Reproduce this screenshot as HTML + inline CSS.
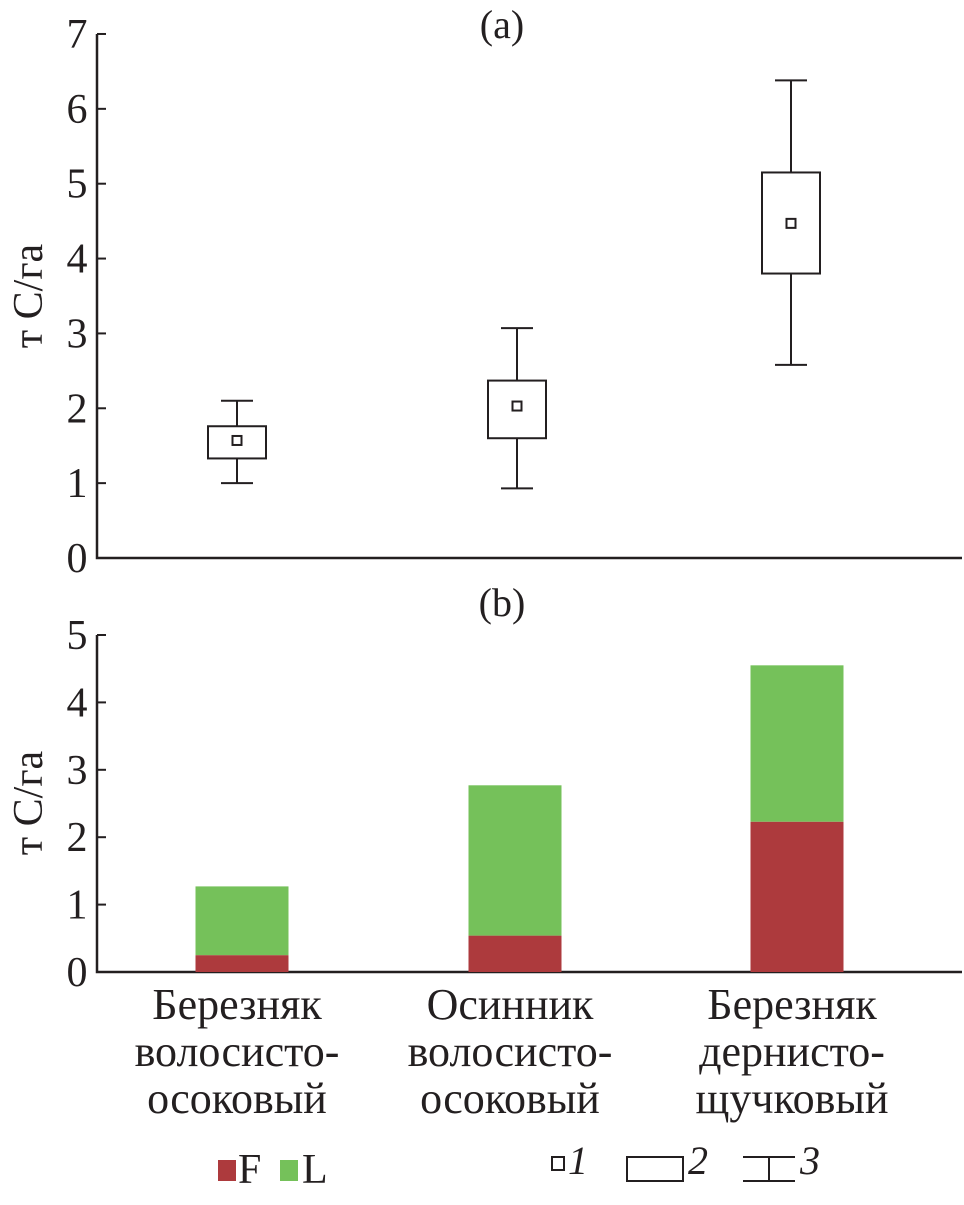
<!DOCTYPE html>
<html><head><meta charset="utf-8"><style>
html,body{margin:0;padding:0;background:#fff;}
svg text{font-family:"Liberation Serif","DejaVu Serif",serif;fill:#231f20;}
</style></head><body>
<svg id="c" width="964" height="1200" viewBox="0 0 964 1200" xmlns="http://www.w3.org/2000/svg">
<g id="top"></g>
<g id="bot"></g>
<g id="leg">
  <rect x="218" y="1160" width="18" height="21" fill="#ad3a3d"/>
  <text x="238" y="1183" font-size="42">F</text>
  <rect x="280" y="1160" width="18" height="21" fill="#75c15a"/>
  <text x="302" y="1183" font-size="42">L</text>
  <rect x="552" y="1157" width="12" height="13" fill="none" stroke="#231f20" stroke-width="2"/>
  <text x="568" y="1174" font-size="40" font-style="italic">1</text>
  <rect x="627" y="1157" width="56" height="24" fill="none" stroke="#231f20" stroke-width="2"/>
  <text x="688" y="1174" font-size="40" font-style="italic">2</text>
  <path d="M743 1157H795M743 1181H795M769 1157V1181" stroke="#231f20" stroke-width="2" fill="none"/>
  <text x="800" y="1174" font-size="40" font-style="italic">3</text>
</g>
</svg>
<script>
const NS="http://www.w3.org/2000/svg";
const categories=[["Березняк","волосисто-","осоковый"],["Осинник","волосисто-","осоковый"],["Березняк","дернисто-","щучковый"]];
const boxWhiskLow=[1.0,0.93,2.58];
const boxWhiskHigh=[2.1,3.07,6.38];
const boxLow=[1.33,1.6,3.8];
const boxHigh=[1.76,2.37,5.15];
const boxMean=[1.57,2.03,4.47];
const topTicks=[0,1,2,3,4,5,6,7];
const fValues=[0.25,0.54,2.23];
const lValues=[1.02,2.23,2.32];
const botTicks=[0,1,2,3,4,5];

function el(parent,tag,attrs){const e=document.createElementNS(NS,tag);for(const k in attrs)e.setAttribute(k,attrs[k]);parent.appendChild(e);return e;}
const axL=97,axR=962;
const xc=i=>[237,517,791][i];
// top
const yT=v=>558-v*74.86;
const gT=document.getElementById('top');
let a=el(gT,'path',{d:`M${axL} ${yT(7)}V${yT(0)}H${axR}`,stroke:'#231f20','stroke-width':2.5,fill:'none'});


topTicks.forEach(t=>{
  const l=el(gT,'line',{x1:axL,x2:axL+9,y1:yT(t),y2:yT(t),stroke:'#231f20','stroke-width':2});
  
  
  const tx=el(gT,'text',{x:77,y:yT(t)+14,'font-size':42,'text-anchor':'middle'});tx.textContent=t;
  
  
});
let tt=el(gT,'text',{x:502,y:38,'font-size':40,'text-anchor':'middle'});tt.textContent='(a)';


let yl=el(gT,'text',{transform:`translate(42 296) rotate(-90)`,'font-size':42,'text-anchor':'middle'});yl.textContent='т С/га';


categories.forEach((c,i)=>{
  const x=xc(i),w=29;
  const g=el(gT,'g',{stroke:'#231f20','stroke-width':2,fill:'none'});
  
  
  el(g,'path',{d:`M${x} ${yT(boxWhiskLow[i])}V${yT(boxLow[i])}M${x} ${yT(boxHigh[i])}V${yT(boxWhiskHigh[i])}M${x-16} ${yT(boxWhiskLow[i])}H${x+16}M${x-16} ${yT(boxWhiskHigh[i])}H${x+16}`});
  el(g,'rect',{x:x-w,y:yT(boxHigh[i]),width:2*w,height:yT(boxLow[i])-yT(boxHigh[i])});
  el(g,'rect',{x:x-4.5,y:yT(boxMean[i])-4.5,width:9,height:9});
});
// bottom
const yB=v=>972-v*67.4;
const gB=document.getElementById('bot');
a=el(gB,'path',{d:`M${axL} ${yB(5)}V${yB(0)}H${axR}`,stroke:'#231f20','stroke-width':2.5,fill:'none'});


botTicks.forEach(t=>{
  const l=el(gB,'line',{x1:axL,x2:axL+9,y1:yB(t),y2:yB(t),stroke:'#231f20','stroke-width':2});
  
  
  const tx=el(gB,'text',{x:77,y:yB(t)+14,'font-size':42,'text-anchor':'middle'});tx.textContent=t;
  
  
});
tt=el(gB,'text',{x:502,y:616,'font-size':40,'text-anchor':'middle'});tt.textContent='(b)';


yl=el(gB,'text',{transform:`translate(42 803) rotate(-90)`,'font-size':42,'text-anchor':'middle'});yl.textContent='т С/га';


const bx=[242,515,797];
categories.forEach((c,i)=>{
  const x=bx[i],w=46.5;
  const f=el(gB,'rect',{x:x-w,y:yB(fValues[i]),width:2*w,height:yB(0)-yB(fValues[i]),fill:'#ad3a3d'});
  
  
  const tot=fValues[i]+lValues[i];
  const l=el(gB,'rect',{x:x-w,y:yB(tot),width:2*w,height:yB(fValues[i])-yB(tot),fill:'#75c15a'});
  
  
  c.forEach((s,j)=>{
    const t=el(gB,'text',{x:bx[i]-5,y:1019+j*47,'font-size':44,'text-anchor':'middle'});t.textContent=s;
    
    
  });
});
</script>
</body></html>
